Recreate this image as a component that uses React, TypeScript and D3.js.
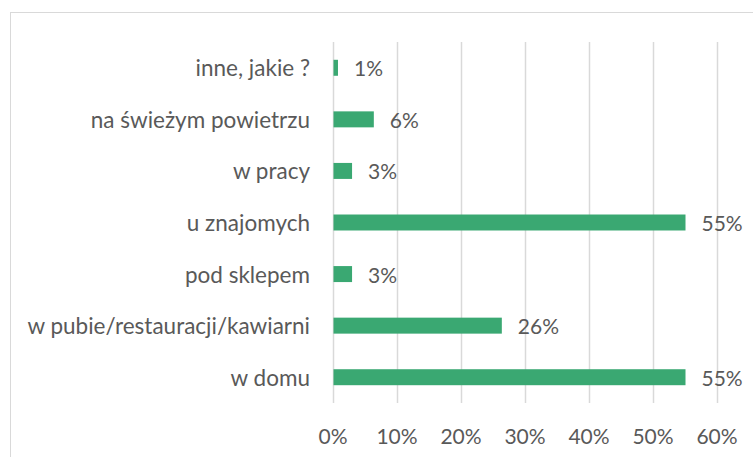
import React from "react";
import * as d3 from "d3";

const categories = [
  "inne, jakie ?",
  "na świeżym powietrzu",
  "w pracy",
  "u znajomych",
  "pod sklepem",
  "w pubie/restauracji/kawiarni",
  "w domu",
];
const values = [0.7, 6.3, 2.9, 55.0, 2.9, 26.3, 55.0];
const valueLabels = ["1%", "6%", "3%", "55%", "3%", "26%", "55%"];
const ticks = [0, 10, 20, 30, 40, 50, 60];

const W = 753;
const H = 457;
const x0 = 333;
const x1 = 717;
const yTop = 42;
const yBot = 403;
const textColor = "#595959";
const grid = "#D9D9D9";
const barColor = "#3AA872";
const font = "Lato, 'Open Sans', sans-serif";

export default function App() {
  const x = d3.scaleLinear().domain([0, 60]).range([x0, x1]);
  const y = d3.scaleBand<string>().domain(categories).range([yTop, yBot]).paddingInner(0.69).paddingOuter(0.345);
  return (
    <svg width={W} height={H} style={{ position: "absolute", left: 0, top: 0, background: "#fff" }}>
      <rect x={10.5} y={12.5} width={W} height={H} fill="none" stroke={grid} strokeWidth={1} />
      {ticks.map((t) => (
        <line key={t} x1={x(t) + 0.5} x2={x(t) + 0.5} y1={yTop} y2={yBot} stroke={grid} strokeWidth={1.5} />
      ))}
      {ticks.map((t) => (
        <text key={"t" + t} x={x(t)} y={443.5} textAnchor="middle" fontFamily={font} fontSize={21} fill={textColor}>
          {t}%
        </text>
      ))}
      {categories.map((c, i) => (
        <g key={c}>
          <rect x={x(0) + 0.5} y={y(c)!} width={x(values[i]) - x(0)} height={y.bandwidth()} fill={barColor} />
          <text x={310} y={y(c)! + y.bandwidth() / 2 + 8.5} textAnchor="end" fontFamily={font} fontSize={22.5} fill={textColor}>
            {c}
          </text>
          <text x={x(values[i]) + 16.5} y={y(c)! + y.bandwidth() / 2 + 8.5} textAnchor="start" fontFamily={font} fontSize={21} fill={textColor}>
            {valueLabels[i]}
          </text>
        </g>
      ))}
    </svg>
  );
}
